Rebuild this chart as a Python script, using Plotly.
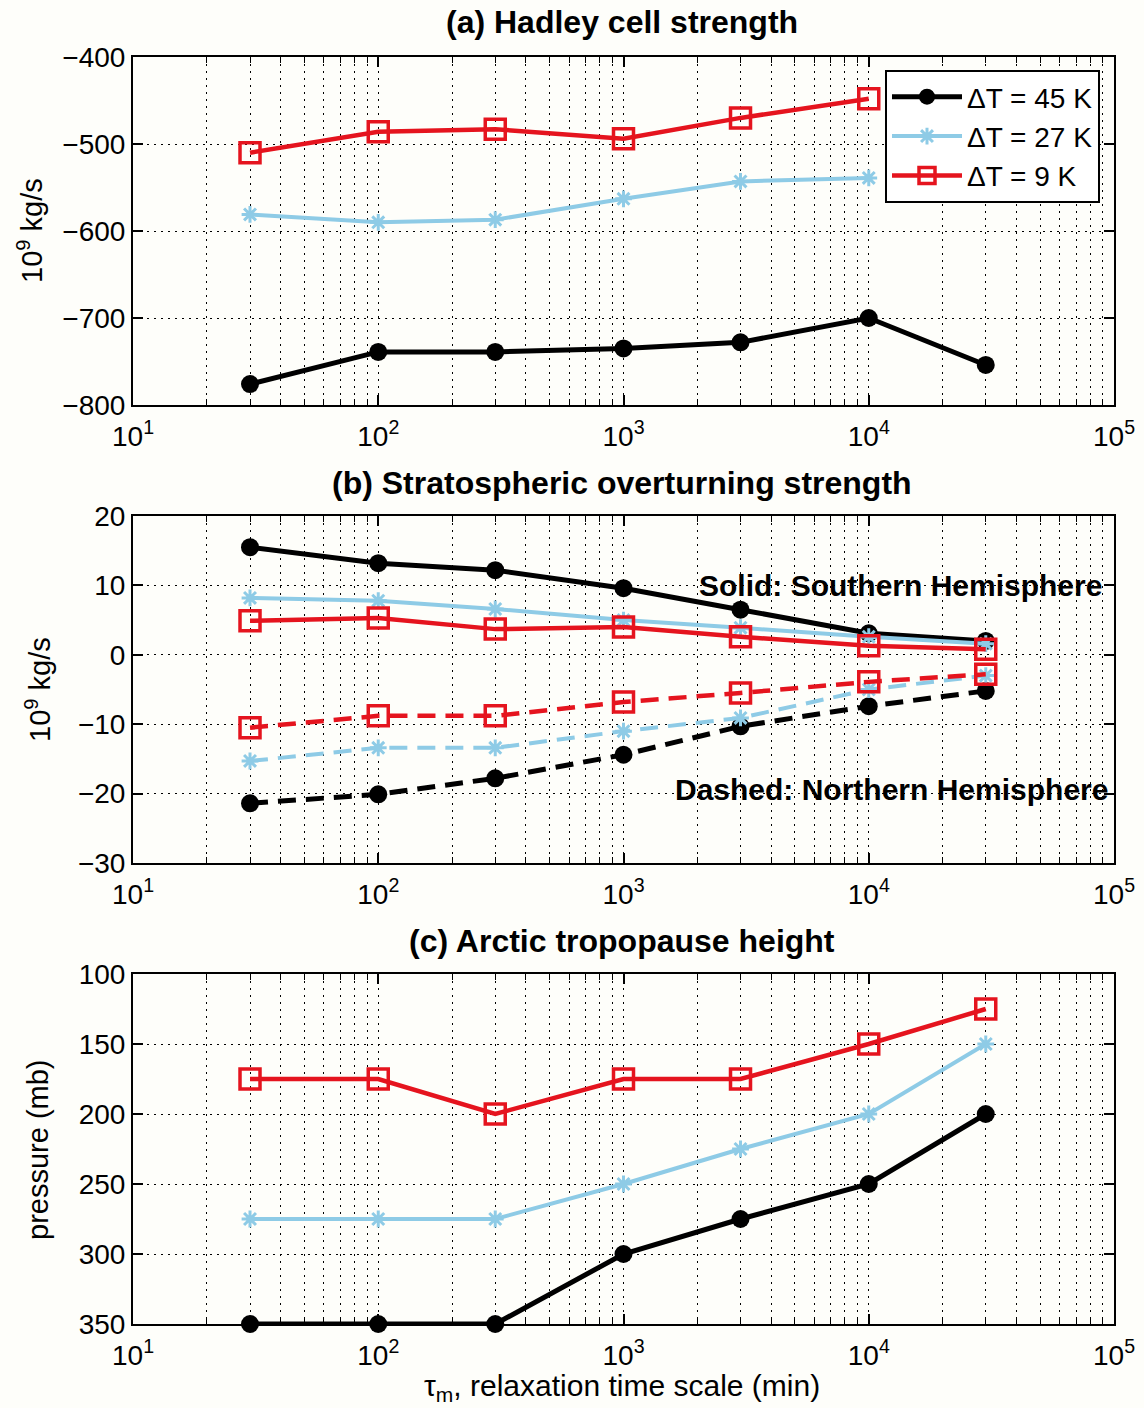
import plotly.graph_objects as go

# Relaxation time scale tau_m (min)
tau = [30, 100, 300, 1000, 3000, 10000, 30000]

# (a) Hadley cell strength, 10^9 kg/s
hadley_45 = [-776, -739, -739, -735, -728, -700, -754]
hadley_27 = [-581, -590, -587, -563, -543, -539]
hadley_9 = [-510, -486, -483, -494, -470, -448]

# (b) Stratospheric overturning strength, 10^9 kg/s
strat_sh_45 = [15.5, 13.2, 12.2, 9.6, 6.5, 3.1, 2.0]
strat_sh_27 = [8.2, 7.8, 6.6, 5.0, 3.9, 2.6, 1.6]
strat_sh_9 = [4.9, 5.3, 3.7, 4.0, 2.6, 1.3, 0.8]
strat_nh_45 = [-21.4, -20.1, -17.8, -14.4, -10.3, -7.4, -5.2]
strat_nh_27 = [-15.3, -13.4, -13.4, -11.0, -9.1, -5.0, -3.0]
strat_nh_9 = [-10.5, -8.8, -8.8, -6.8, -5.5, -3.9, -2.8]

# (c) Arctic tropopause height, mb
trop_45 = [350, 350, 350, 300, 275, 250, 200]
trop_27 = [275, 275, 275, 250, 225, 200, 150]
trop_9 = [175, 175, 200, 175, 175, 150, 125]

labels = ["ΔT = 45 K", "ΔT = 27 K", "ΔT = 9 K"]
x_ticks = [10, 100, 1000, 10000, 100000]
x_ticktext = ["10<sup>1</sup>", "10<sup>2</sup>", "10<sup>3</sup>", "10<sup>4</sup>", "10<sup>5</sup>"]
x_minor = [m * 10 ** e for e in range(1, 5) for m in range(2, 10)]

W, H = 1144, 1408
FONT = "Liberation Sans, Arial, Helvetica, sans-serif"
BLACK = "#000000"
BLUE = "#8ecbe6"
RED = "#e5141e"
BG = "#fefefa"

styles = {
    45: dict(color=BLACK, width=5, symbol="circle", msize=18, mline=0),
    27: dict(color=BLUE, width=4, symbol="asterisk-open", msize=14, mline=3),
    9: dict(color=RED, width=4.5, symbol="square-open", msize=20, mline=3.5),
}


def px_x(p):
    return p / W


def px_y(p):
    return 1 - p / H


fig = go.Figure()


def add_series(xa, ya, yvals, key, name, dash="solid", legend=False):
    s = styles[key]
    marker = dict(symbol=s["symbol"], size=s["msize"], color=s["color"])
    if s["mline"]:
        marker["line"] = dict(color=s["color"], width=s["mline"])
    fig.add_trace(go.Scatter(
        x=tau[:len(yvals)], y=yvals, mode="lines+markers", name=name,
        line=dict(color=s["color"], width=s["width"], dash=dash),
        marker=marker, xaxis=xa, yaxis=ya, showlegend=legend,
        cliponaxis=False,
    ))


# panel (a)
add_series("x", "y", hadley_45, 45, labels[0], legend=True)
add_series("x", "y", hadley_27, 27, labels[1], legend=True)
add_series("x", "y", hadley_9, 9, labels[2], legend=True)
# panel (b): solid = southern, dashed = northern hemisphere
add_series("x2", "y2", strat_sh_45, 45, labels[0])
add_series("x2", "y2", strat_sh_27, 27, labels[1])
add_series("x2", "y2", strat_sh_9, 9, labels[2])
add_series("x2", "y2", strat_nh_45, 45, labels[0], dash="18px,10px")
add_series("x2", "y2", strat_nh_27, 27, labels[1], dash="18px,10px")
add_series("x2", "y2", strat_nh_9, 9, labels[2], dash="18px,10px")
# panel (c)
add_series("x3", "y3", trop_45, 45, labels[0])
add_series("x3", "y3", trop_27, 27, labels[1])
add_series("x3", "y3", trop_9, 9, labels[2])

GRID_DASH = "2px,5px"
x_dom = [px_x(133), px_x(1114)]
panels = [
    # (top px, bottom px, y range, y ticks)
    (57, 405, [-800, -400], [-800, -700, -600, -500, -400]),
    (516, 863, [-30, 20], [-30, -20, -10, 0, 10, 20]),
    (974, 1324, [350, 100], [100, 150, 200, 250, 300, 350]),
]

common_axis = dict(
    showline=True, linecolor=BLACK, linewidth=2, mirror="allticks",
    ticks="inside", tickcolor=BLACK, tickwidth=1.5,
    showgrid=True, gridcolor=BLACK, gridwidth=1.3, griddash=GRID_DASH,
    zeroline=False, automargin=False,
    tickfont=dict(family=FONT, size=28, color=BLACK),
)

for i, (top, bot, yr, yt) in enumerate(panels):
    sfx = "" if i == 0 else str(i + 1)
    fig.layout["xaxis" + sfx] = dict(
        common_axis, type="log", range=[1, 5], domain=x_dom,
        anchor="y" + sfx, tickvals=x_ticks, ticktext=x_ticktext, ticklen=10,
        ticklabelstandoff=5,
        minor=dict(tickvals=x_minor, ticks="inside", ticklen=6, tickcolor=BLACK,
                   tickwidth=1.2, showgrid=True, gridcolor=BLACK,
                   gridwidth=1.3, griddash=GRID_DASH),
    )
    fig.layout["yaxis" + sfx] = dict(
        common_axis, range=yr, domain=[px_y(bot), px_y(top)],
        anchor="x" + sfx, tickvals=yt, ticklen=10,
    )

annotations = []


def text(x, y, t, size, bold=False, angle=0, xanchor="center"):
    annotations.append(dict(
        x=px_x(x), y=px_y(y), xref="paper", yref="paper", text=t,
        showarrow=False, textangle=angle, xanchor=xanchor, yanchor="middle",
        font=dict(family=FONT, size=size, color=BLACK,
                  weight="bold" if bold else "normal"),
    ))


text(622, 22, "(a) Hadley cell strength", 32, bold=True)
text(622, 483, "(b) Stratospheric overturning strength", 32, bold=True)
text(622, 941, "(c) Arctic tropopause height", 32, bold=True)
text(30, 231, "10<sup>9</sup> kg/s", 29, angle=-90)
text(38, 690, "10<sup>9</sup> kg/s", 29, angle=-90)
text(38, 1150, "pressure (mb)", 29, angle=-90)
text(622, 1387, "τ<sub>m</sub>, relaxation time scale (min)", 30)
text(1104, 585, "Solid: Southern Hemisphere", 30, bold=True, xanchor="right")
text(1110, 789, "Dashed: Northern Hemisphere", 30, bold=True, xanchor="right")

fig.update_layout(
    width=W, height=H,
    margin=dict(l=0, r=0, t=0, b=0),
    paper_bgcolor=BG, plot_bgcolor=BG,
    annotations=annotations,
    showlegend=True,
    legend=dict(
        x=px_x(1100), y=px_y(70), xanchor="right", yanchor="top",
        bgcolor="#ffffff", bordercolor=BLACK, borderwidth=2,
        font=dict(family=FONT, size=28, color=BLACK),
        tracegroupgap=0, itemwidth=70,
    ),
)

fig.write_html("out.html")
